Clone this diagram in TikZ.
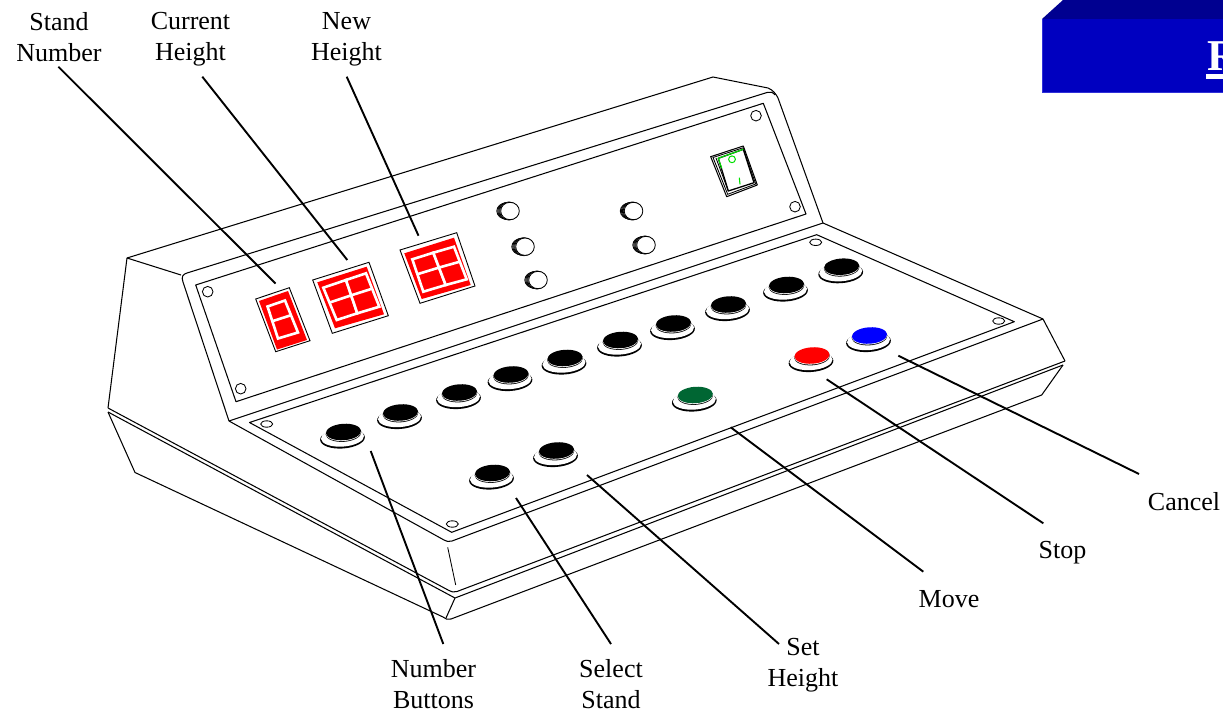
\documentclass[tikz,border=0pt]{standalone}
\usepackage{fontspec}
\setmainfont{Liberation Serif}
\usetikzlibrary{calc}
\definecolor{frontblue}{HTML}{0000C0}
\definecolor{topblue}{HTML}{000090}
\definecolor{edgeblue}{HTML}{3030D8}
\definecolor{btngreen}{HTML}{006633}
\definecolor{swgreen}{HTML}{00E000}
\tikzset{
  body/.style={draw=black,line width=1.05pt,line join=round},
  thin line/.style={draw=black,line width=0.85pt},
  leader/.style={draw=black,line width=1.9pt},
  lbl/.style={align=center,inner sep=0pt,anchor=base,font=\fontsize{26}{30.7}\selectfont},
  dispframe/.style={draw=black,fill=white,line width=0.9pt},
  dispred/.style={fill=red},
  digit/.style={draw=white,fill=red,line width=2.6pt,line join=miter},
}
% push button: #1 name, #2 x, #3 y, #4 cap colour
\newcommand{\pushbtn}[4]{%
  \fill[black,rotate around={4:(#2-1,#3+6.5)}] (#2-1,#3+6.5) ellipse [x radius=22.4,y radius=10];
  \fill[white,rotate around={4:(#2-1,#3+5.3)}] (#2-1,#3+5.3) ellipse [x radius=21.6,y radius=9.3];
  \fill[black,rotate around={4:(#2,#3+1.2)}] (#2,#3+1.2) ellipse [x radius=17.9,y radius=8.6];
  \fill[white,rotate around={4:(#2,#3+.6)}] (#2,#3+.6) ellipse [x radius=17.7,y radius=8.4];
  \fill[#4,rotate around={4:(#2,#3)}] (#2,#3) ellipse [x radius=17.6,y radius=8.2];
  \coordinate (#1) at (#2,#3);
}
% small round knob
\newcommand{\knob}[3]{%
  \draw[thin line,fill=white] (#2-4,#3) ellipse [x radius=9.2,y radius=8];
  \draw[thin line,fill=white] (#2-3,#3) ellipse [x radius=9.2,y radius=8.4];
  \draw[thin line,fill=white] (#2-2,#3) ellipse [x radius=9.2,y radius=8.7];
  \draw[thin line,fill=white] (#2-1,#3) ellipse [x radius=9.3,y radius=9];
  \draw[thin line,fill=white] (#2,#3) ellipse [x radius=9.3,y radius=8.7];
  \coordinate (#1) at (#2,#3);
}
% one digit: four corners clockwise from top left
\newcommand{\digitcell}[4]{%
  \path[digit] #1 -- #2 -- #3 -- #4 -- cycle;
  \draw[white,line width=2.6pt] ($#1!.46!#4$) -- ($#2!.46!#3$);
}
\begin{document}
\begin{tikzpicture}[x=1pt,y=-1pt]
\useasboundingbox (0,0) rectangle (1223,712);
\fill[white] (0,0) rectangle (1223,712);

% --- blue box at top right
\begin{scope}
\clip (0,0) rectangle (1223,712);
\fill[topblue] (1042,19) -- (1063,0) -- (1223,0) -- (1223,19) -- cycle;
\fill[frontblue] (1042,19) rectangle (1223,92.5);
\draw[edgeblue,line width=.8pt] (1042,19) -- (1042,92.5) -- (1223,92.5);
\node[anchor=base west,inner sep=0pt,text=white,font=\fontsize{44}{44}\selectfont\bfseries] (rlink) at (1207,70.5) {R};
\fill[white] (1206,74) rectangle (1223,79);
\end{scope}

% --- console body
\draw[body] (127,258) -- (713,77) -- (768,88) .. controls (773,90) and (776,94) .. (778,98) -- (823,223);
\draw[body] (127,258) -- (181,275);
\draw[body] (127,258) -- (108,408);
\draw[body] (229,421) -- (183,282) .. controls (181,277) and (183,274) .. (187,273) -- (767,92.5) .. controls (770,91.5) and (773,92) .. (775,95);
\draw[body] (229,421) -- (823,223) -- (1043,319) -- (1065,361);
\draw[body] (229,421) -- (444,540) .. controls (446,541.5) and (449,542) .. (452,541) -- (1043,319);
\draw[body] (108,408) -- (449,590.5) .. controls (451,592) and (454,592.5) .. (457,591.5) -- (1065,361);
\draw[body] (108,412) -- (135,472.5) -- (443,617) .. controls (445,619) and (448,620) .. (451,619) -- (1041.7,395) -- (1063,365);
\draw[body] (108,412) -- (455,598) -- (1063,365);
\draw[body] (455,598) -- (446,618);
\draw[thin line] (447.7,547.3) -- (455.7,585);

% --- upper panel
\draw[body] (195.7,285) -- (763.3,103.3) -- (806,214) -- (236,401.7) -- cycle;
\foreach \n/\x/\y in {sa/207.7/291.7,sb/240.7/388.7,sc/756/115.7,sd/795/206.7}{
  \draw[thin line] (\x,\y) circle [radius=5.3];
  \coordinate (\n) at (\x,\y);
}

% --- lower panel
\draw[body] (249.5,422.5) -- (816.7,234.7) -- (1014.3,321.7) -- (451.7,532.3) -- cycle;
\foreach \n/\x/\y in {se/266.7/424,sf/452.3/524,sg/815.7/242.3,sh/998.7/321}{
  \draw[thin line] (\x,\y) ellipse [x radius=6,y radius=3.2];
  \coordinate (\n) at (\x,\y);
}

% --- displays
\path[dispframe] (255.7,299) -- (289.3,287.7) -- (310,340.7) -- (275.7,351.7) -- cycle;
\path[dispred] (259,301) -- (288,291) -- (307,340) -- (277,349.5) -- cycle;
\digitcell{(267.5,306.5)}{(285,300.5)}{(298,332.5)}{(278,338.5)}

\path[dispframe] (312.7,280) -- (369,262.3) -- (388.3,315.7) -- (332.3,333.3) -- cycle;
\path[dispred] (317.3,282.3) -- (366.7,266.7) -- (384,314.3) -- (335,328.3) -- cycle;
\digitcell{(323.3,287.7)}{(346,280)}{(357.3,313.3)}{(336.7,320)}
\digitcell{(346,280)}{(366,273.3)}{(379.3,306.7)}{(357.3,313.3)}

\path[dispframe] (400,250) -- (456.7,232.7) -- (475,286) -- (420,303.3) -- cycle;
\path[dispred] (404.3,253.3) -- (454,237.7) -- (470.7,285) -- (421.7,299) -- cycle;
\digitcell{(412.3,259.3)}{(433.3,252.7)}{(445.7,285)}{(423.3,291.7)}
\digitcell{(433.3,252.7)}{(454,246.7)}{(466.7,279.3)}{(445.7,285)}

% --- knobs
\knob{ka}{510}{211}
\knob{kb}{633.5}{211}
\knob{kc}{525}{246.7}
\knob{kd}{646}{245}
\knob{ke}{538}{280}

% --- rocker switch
\draw[body,fill=white] (710.7,156.7) -- (743.3,146) -- (757.3,185) -- (726.7,196.7) -- cycle;
\draw[thin line] (713,157.5) -- (743,147.8) -- (755.7,184) -- (727.7,194.3) -- cycle;
\draw[thin line] (716,158) -- (728.3,191);
\draw[body,line width=1.3pt] (718.3,158.3) -- (743.3,149.3) -- (754,182.7) -- (728.3,191) -- cycle;
\draw[swgreen,line width=1.1pt] (743.3,149.3) -- (718.3,158.3) -- (721.7,168.3);
\draw[swgreen,line width=1pt] (732,159.3) circle [radius=3.4];
\draw[swgreen,line width=1.1pt] (739.3,177.7) -- (740,184.3);

% --- push buttons
\pushbtn{b1}{343.5}{432}{black}
\pushbtn{b2}{400.5}{412.5}{black}
\pushbtn{b3}{459.5}{392.5}{black}
\pushbtn{b4}{511}{374.5}{black}
\pushbtn{b5}{565}{358}{black}
\pushbtn{b6}{620.5}{340}{black}
\pushbtn{b7}{673.5}{323.5}{black}
\pushbtn{b8}{728.5}{304.5}{black}
\pushbtn{b9}{786.5}{285}{black}
\pushbtn{b10}{841.7}{266.7}{black}
\pushbtn{s1}{492.5}{473}{black}
\pushbtn{s2}{556.5}{450.5}{black}
\pushbtn{g1}{695.3}{395}{btngreen}
\pushbtn{r1}{812}{355.5}{red}
\pushbtn{u1}{869.5}{335.5}{blue}

% --- labels
\node[lbl] (lstand) at (59,61) {Stand\\Number};
\node[lbl] (lcur) at (190.5,60.5) {Current\\Height};
\node[lbl] (lnew) at (346.5,60.5) {New\\Height};
\node[lbl] (lnum) at (433.5,708) {Number\\Buttons};
\node[lbl] (lsel) at (611,708) {Select\\Stand};
\node[lbl] (lset) at (803,686.5) {Set\\Height};
\node[lbl] (lmove) at (949,607.5) {Move};
\node[lbl] (lstop) at (1062.5,558) {Stop};
\node[lbl] (lcancel) at (1184,510) {Cancel};

% --- leader ends
\coordinate (a1) at (58.3,66.7);  \coordinate (a2) at (275.5,283.5);
\coordinate (c1) at (202.3,76.7); \coordinate (c2) at (347.3,260);
\coordinate (n1) at (346.7,76.7); \coordinate (n2) at (418.5,235.7);
\coordinate (m1) at (370.7,451);  \coordinate (m2) at (443.3,644);
\coordinate (e1) at (516,498);    \coordinate (e2) at (611,644);
\coordinate (h1) at (587,475);    \coordinate (h2) at (779,644);
\coordinate (v1) at (730.7,427.3); \coordinate (v2) at (923.3,571.7);
\coordinate (t1) at (826.7,379.3); \coordinate (t2) at (1043.3,523.3);
\coordinate (x1) at (898.3,355.7); \coordinate (x2) at (1139,474);
\foreach \p/\q in {a1/a2,c1/c2,n1/n2,m1/m2,e1/e2,h1/h2,v1/v2,t1/t2,x1/x2}
  \draw[leader] (\p) -- (\q);
\end{tikzpicture}
\end{document}
